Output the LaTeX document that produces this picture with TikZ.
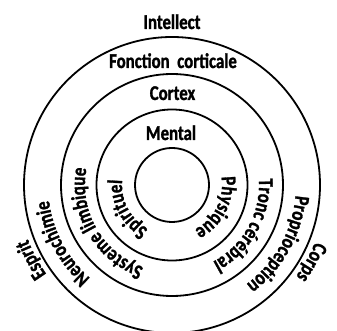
\documentclass[tikz,border=0pt]{standalone}
\usepackage{fontspec}
\setmainfont{Carlito}[FakeStretch=0.8, BoldFeatures={FakeBold=1.3}]
\usetikzlibrary{decorations.text}
\newcommand{\lblfont}{\fontsize{21}{24}\selectfont\bfseries}
\begin{document}
\begin{tikzpicture}[x=1pt,y=1pt,
  ring/.style={line width=1.8pt},
  toplabel/.style={font=\lblfont, anchor=base, inner sep=0pt},
  arclabel/.style={decorate, decoration={text along path, text align=center, text={|\lblfont|#1}}}]
\useasboundingbox (0,0) rectangle (337,331);
\begin{scope}[shift={(172,146)}]
\coordinate (c) at (0,0);
\draw[ring] (c) circle[radius=37pt];
\draw[ring] (c) circle[radius=75.5pt];
\draw[ring] (c) circle[radius=111pt];
\draw[ring] (c) circle[radius=148pt];
% horizontal labels
\node[toplabel] (intellect) at (0,156) {Intellect};
\node[toplabel] (fonction) at (1,117) {Fonction\ \ corticale};
\node[toplabel] (cortex) at (0.5,85) {Cortex};
\node[toplabel] (mental) at (-1,45) {Mental};
% left side labels (clockwise, tops outward)
\path[arclabel=Spirituel] (268:50pt) arc[start angle=268, end angle=148, radius=50pt];
\path[arclabel={Systeme limbique}] (270:87pt) arc[start angle=270, end angle=150, radius=87pt];
\path[arclabel=Neurochimie] (268:124pt) arc[start angle=268, end angle=148, radius=124pt];
\path[arclabel=Esprit] (268:154pt) arc[start angle=268, end angle=148, radius=154pt];
% right side labels
\path[arclabel=Physique] (33:50pt) arc[start angle=33, end angle=-87, radius=50pt];
\path[arclabel={Tronc cérébral}] (31:87pt) arc[start angle=31, end angle=-89, radius=87pt];
\path[arclabel=Proprioception] (31:124pt) arc[start angle=31, end angle=-89, radius=124pt];
\path[arclabel=Corps] (31:154pt) arc[start angle=31, end angle=-89, radius=154pt];
\end{scope}
\end{tikzpicture}
\end{document}
